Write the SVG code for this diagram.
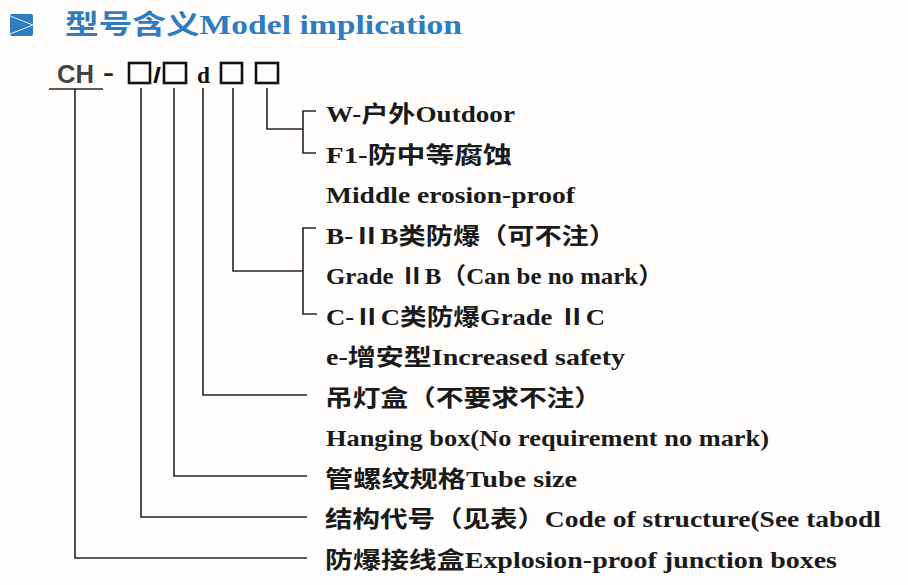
<svg xmlns="http://www.w3.org/2000/svg" width="908" height="585" viewBox="0 0 908 585">
<style>
.t{font-family:"Liberation Serif","Noto Sans CJK SC",serif;font-weight:bold;font-size:23px;fill:#1a1a1a}
.ln{fill:none;stroke:#2a2422;stroke-width:1.6}
.bx{fill:none;stroke:#111;stroke-width:2.6}
</style>
<rect width="908" height="585" fill="#fffdfc"/>
<g id="header">
<rect x="10" y="14" width="23" height="22" rx="2" fill="#2f7cc0"/>
<polyline points="10,16 33,25 10,34" fill="none" stroke="#e8f2fb" stroke-width="1"/>
<text x="65" y="34" font-family="Liberation Serif,'Noto Sans CJK SC',serif" font-weight="bold" font-size="27" fill="#2f7cc0" textLength="397" lengthAdjust="spacingAndGlyphs">型号含义Model implication</text>
</g>
<g id="code">
<text x="57" y="83" font-family="Liberation Sans,Arial,sans-serif" font-weight="bold" font-size="25" fill="#444" textLength="37" lengthAdjust="spacingAndGlyphs">CH</text>
<text x="103" y="81" font-family="Liberation Sans,Arial,sans-serif" font-weight="bold" font-size="24" fill="#222" textLength="11" lengthAdjust="spacingAndGlyphs">-</text>
<rect class="bx" x="129" y="63" width="21" height="20"/>
<text x="153" y="83" font-family="Liberation Sans,Arial,sans-serif" font-weight="bold" font-size="22" fill="#111" textLength="8" lengthAdjust="spacingAndGlyphs">/</text>
<rect class="bx" x="164" y="63" width="22" height="20"/>
<text x="197" y="83" font-family="Liberation Serif,serif" font-weight="bold" font-size="24" fill="#111" textLength="13" lengthAdjust="spacingAndGlyphs">d</text>
<rect class="bx" x="221" y="63" width="21" height="20"/>
<rect class="bx" x="256" y="63" width="22" height="20"/>
</g>
<g id="connectors">
<line class="ln" x1="49" y1="89" x2="103" y2="89"/>
<polyline class="ln" points="75,89 75,558 307,558"/>
<polyline class="ln" points="141,88 141,517 307,517"/>
<polyline class="ln" points="174,88 174,476 307,476"/>
<polyline class="ln" points="203,88 203,395 307,395"/>
<polyline class="ln" points="233,88 233,271 303,271"/>
<polyline class="ln" points="316,228 303,228 303,314 317,314"/>
<polyline class="ln" points="267,88 267,129 303,129"/>
<polyline class="ln" points="316,111 303,111 303,153 316,153"/>
</g>
<g id="labels">
<text class="t" x="326" y="122" textLength="189" lengthAdjust="spacingAndGlyphs">W-户外Outdoor</text>
<text class="t" x="326" y="162.5" textLength="186" lengthAdjust="spacingAndGlyphs">F1-防中等腐蚀</text>
<text class="t" x="326" y="203" textLength="249" lengthAdjust="spacingAndGlyphs">Middle erosion-proof</text>
<text class="t" x="326" y="243.5" textLength="290" lengthAdjust="spacingAndGlyphs">B-ⅡB类防爆（可不注）</text>
<text class="t" x="326" y="284" textLength="337" lengthAdjust="spacingAndGlyphs">Grade ⅡB（Can be no mark）</text>
<text class="t" x="326" y="324.5" textLength="279" lengthAdjust="spacingAndGlyphs">C-ⅡC类防爆Grade ⅡC</text>
<text class="t" x="326" y="365" textLength="299" lengthAdjust="spacingAndGlyphs">e-增安型Increased safety</text>
<text class="t" x="325" y="405.5" textLength="277" lengthAdjust="spacingAndGlyphs">吊灯盒（不要求不注）</text>
<text class="t" x="326" y="446" textLength="443" lengthAdjust="spacingAndGlyphs">Hanging box(No requirement no mark)</text>
<text class="t" x="325" y="486.5" textLength="252" lengthAdjust="spacingAndGlyphs">管螺纹规格Tube size</text>
<text class="t" x="325" y="527" textLength="556" lengthAdjust="spacingAndGlyphs">结构代号（见表）Code of structure(See tabodl</text>
<text class="t" x="325" y="567.5" textLength="512" lengthAdjust="spacingAndGlyphs">防爆接线盒Explosion-proof junction boxes</text>
</g>
</svg>
